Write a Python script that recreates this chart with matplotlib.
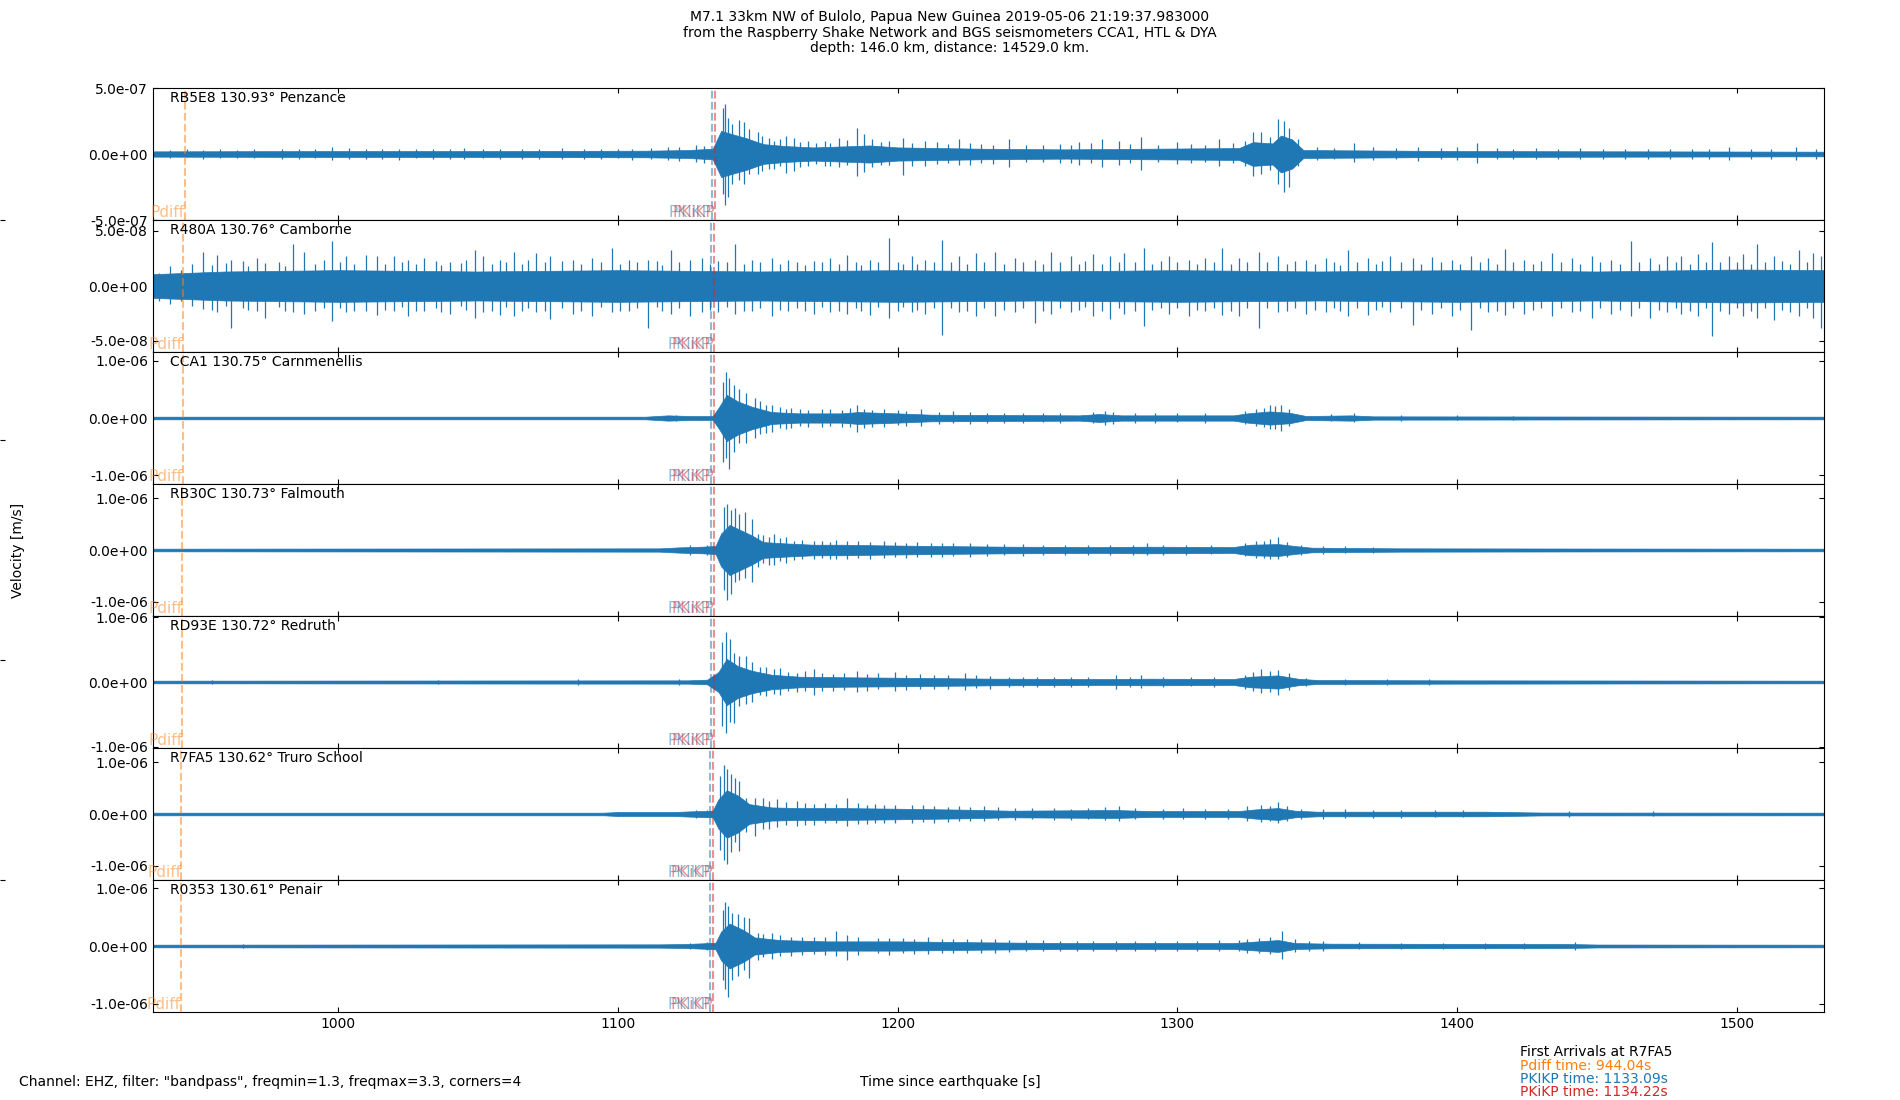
import numpy as np
import matplotlib
matplotlib.use("Agg")
import matplotlib.pyplot as plt
from matplotlib.ticker import FormatStrFormatter, MultipleLocator

# stations, top to bottom
stations = ["RB5E8", "R480A", "CCA1", "RB30C", "RD93E", "R7FA5", "R0353"]
distances = [130.93, 130.76, 130.75, 130.73, 130.72, 130.62, 130.61]
places = ["Penzance", "Camborne", "Carnmenellis", "Falmouth", "Redruth", "Truro School", "Penair"]
y_half = [5.0e-7, 6.0e-8, 1.15e-6, 1.28e-6, 1.02e-6, 1.28e-6, 1.14e-6]   # axis half range [m/s]
y_tick = [5.0e-7, 5.0e-8, 1.0e-6, 1.0e-6, 1.0e-6, 1.0e-6, 1.0e-6]

# predicted arrivals per station [s]
pdiff_t = [945.40, 944.66, 944.61, 944.52, 944.48, 944.04, 944.00]
pkikp_t = [1133.68, 1133.36, 1133.34, 1133.30, 1133.28, 1133.09, 1133.07]
pkikp2_t = [1134.81, 1134.49, 1134.47, 1134.43, 1134.41, 1134.22, 1134.20]

# dense part of each waveform: (time s, amplitude % of axis half range)
rb5e8_core = [(934, 4), (1000, 4.5), (1060, 4.5), (1110, 5), (1125, 6), (1134, 8), (1137, 35), (1141, 30),
              (1146, 24), (1152, 15), (1160, 12), (1170, 10), (1184, 12), (1190, 13), (1200, 10), (1230, 8),
              (1260, 7), (1290, 8), (1322, 9), (1327, 18), (1334, 16), (1337, 28), (1341, 22), (1345, 6),
              (1400, 4.5), (1531, 3.5)]
r480a_core = [(934, 18), (960, 22), (1000, 24), (1050, 22), (1100, 24), (1150, 22), (1200, 24), (1250, 22),
              (1300, 24), (1350, 22), (1400, 24), (1450, 22), (1500, 25), (1531, 24)]
cca1_core = [(934, 2), (1110, 2), (1118, 4), (1126, 3), (1134, 3), (1136, 15), (1139, 35), (1143, 25),
             (1148, 17), (1155, 9), (1165, 7), (1180, 7), (1186, 9), (1200, 7), (1212, 5), (1240, 4.5),
             (1265, 4), (1272, 6), (1280, 4), (1320, 4), (1325, 7), (1333, 10), (1340, 8), (1346, 3),
             (1362, 4), (1370, 2.5), (1450, 2.2), (1531, 2)]
rb30c_core = [(934, 2), (1115, 2.5), (1122, 4), (1130, 5), (1135, 6), (1137, 25), (1140, 38), (1144, 30),
              (1148, 22), (1152, 12), (1160, 10), (1170, 8), (1180, 8), (1195, 7), (1215, 6), (1240, 5),
              (1270, 4.5), (1289, 5), (1320, 4.5), (1326, 8), (1336, 9), (1342, 6), (1348, 3.5), (1380, 2.5),
              (1450, 2.2), (1531, 2)]
rd93e_core = [(934, 2), (1125, 2.5), (1132, 3.5), (1136, 15), (1139, 35), (1143, 24), (1148, 17), (1155, 11),
              (1165, 8), (1185, 7), (1200, 6.5), (1235, 5), (1275, 4.5), (1290, 5), (1320, 4.5), (1326, 8),
              (1336, 10), (1343, 5), (1350, 3), (1400, 2.5), (1531, 2)]
r7fa5_core = [(934, 2), (1095, 2), (1100, 3), (1120, 3), (1126, 4), (1134, 5), (1136, 22), (1139, 36),
              (1143, 28), (1147, 15), (1155, 10), (1164, 9), (1180, 9), (1200, 8), (1225, 6.5), (1240, 5),
              (1278, 6), (1290, 4.5), (1322, 4.5), (1328, 7), (1336, 9), (1342, 5), (1350, 3.5), (1410, 3.5),
              (1430, 2.2), (1531, 2)]
r0353_core = [(934, 2), (1115, 2.5), (1124, 3), (1130, 4), (1135, 5), (1137, 22), (1140, 34), (1145, 24),
              (1149, 13), (1158, 9), (1175, 7), (1200, 7), (1232, 5.5), (1260, 4.5), (1320, 4.5), (1327, 6.5),
              (1336, 9), (1342, 4.5), (1355, 3.5), (1440, 3), (1450, 2.2), (1531, 2)]

# single swings standing out of the dense part: (time s, up %, down %)
rb5e8_spikes = [(940, 6, 6), (946, 7, 5), (952, 6, 7), (958, 7, 6), (964, 6, 6), (970, 7, 6), (980, 8, 7),
                (986, 7, 7), (992, 8, 6), (998, 10, 9), (1004, 9, 8), (1010, 7, 8), (1016, 8, 7), (1022, 8, 9),
                (1028, 7, 6), (1034, 8, 8), (1040, 7, 7), (1045, 9, 7), (1052, 8, 6), (1058, 7, 8), (1066, 8, 7),
                (1072, 7, 7), (1080, 9, 8), (1088, 8, 7), (1094, 7, 8), (1100, 8, 6), (1105, 8, 9), (1112, 9, 8),
                (1118, 10, 9), (1122, 11, 10), (1128, 14, 12), (1131, 12, 13),
                (1137.5, 70, 60), (1138.5, 76, 77), (1139.5, 55, 65), (1141, 45, 46), (1143.5, 52, 40),
                (1145, 48, 46), (1147, 38, 30), (1150, 34, 31), (1151.5, 28, 25), (1154, 24, 22), (1156, 20, 22),
                (1158, 22, 18), (1160, 27, 29), (1163, 25, 26), (1165, 18, 20), (1168, 20, 18), (1171, 17, 15),
                (1174, 19, 18), (1176, 16, 18), (1179, 24, 20), (1182, 21, 17), (1185.5, 39, 34), (1188, 30, 28),
                (1191, 22, 20), (1194, 18, 17), (1197, 20, 16), (1202, 24, 32), (1205, 16, 18), (1210, 20, 18),
                (1214, 18, 15), (1218, 15, 14), (1222, 22, 16), (1226, 16, 17), (1230, 15, 13), (1234, 14, 15),
                (1240, 22, 19), (1246, 14, 12), (1252, 13, 12), (1258, 15, 14), (1262, 14, 13), (1265, 18, 16),
                (1269, 16, 14), (1273, 22, 20), (1279, 20, 17), (1283, 15, 13), (1287, 26, 24), (1293, 14, 12),
                (1300, 18, 15), (1305, 15, 13), (1310, 13, 12), (1315, 22, 18), (1320, 16, 14), (1324, 20, 18),
                (1327, 33, 33), (1330, 34, 30), (1333, 26, 24), (1336, 53, 45), (1338, 50, 57), (1340, 40, 50),
                (1343, 22, 18), (1350, 10, 9), (1356, 9, 8), (1363, 17, 12), (1370, 10, 9), (1378, 9, 8),
                (1386, 10, 10), (1394, 9, 8), (1400, 10, 9), (1407, 17, 14), (1414, 9, 8), (1420, 8, 8),
                (1428, 9, 8), (1436, 8, 7), (1444, 9, 8), (1452, 8, 7), (1460, 8, 8), (1468, 7, 7), (1476, 8, 7),
                (1484, 7, 8), (1490, 8, 7), (1497, 10, 9), (1505, 8, 7), (1512, 7, 7), (1521, 10, 9),
                (1528, 8, 7)]
r480a_spikes = [(936, 20, 23), (940, 30, 28), (944, 25, 22), (948, 34, 30), (952, 52, 35), (955, 32, 36),
                (957, 47, 40), (960, 35, 30), (962, 40, 64), (966, 38, 34), (968, 30, 36), (971, 42, 38),
                (974, 35, 48), (979, 36, 32), (981, 30, 38), (984, 63, 40), (988, 52, 43), (992, 34, 38),
                (995, 40, 33), (998, 68, 53), (1001, 36, 34), (1003, 45, 40), (1006, 33, 38), (1010, 47, 38),
                (1014, 45, 44), (1017, 34, 36), (1020, 45, 38), (1023, 36, 32), (1025, 40, 45), (1028, 33, 38),
                (1031, 42, 38), (1035, 38, 34), (1037, 32, 40), (1040, 37, 42), (1044, 35, 30), (1046, 40, 36),
                (1049, 55, 48), (1052, 45, 40), (1055, 34, 38), (1058, 40, 44), (1060, 36, 32), (1063, 52, 45),
                (1066, 34, 38), (1068, 40, 34), (1071, 50, 40), (1074, 36, 38), (1076, 45, 50), (1080, 38, 34),
                (1084, 40, 42), (1087, 34, 38), (1091, 42, 45), (1094, 36, 32), (1098, 58, 40), (1101, 34, 38),
                (1104, 40, 38), (1107, 36, 34), (1111, 40, 64), (1114, 38, 32), (1116, 32, 38), (1119, 55, 42),
                (1122, 36, 34), (1126, 40, 45), (1130, 42, 40), (1133, 34, 36), (1136, 38, 40), (1139, 36, 32),
                (1142, 63, 42), (1145, 34, 38), (1148, 40, 38), (1151, 36, 34), (1155, 42, 45), (1158, 34, 36),
                (1161, 40, 38), (1164, 36, 34), (1167, 32, 38), (1170, 38, 42), (1173, 36, 32), (1176, 42, 40),
                (1179, 34, 38), (1182, 47, 42), (1185, 36, 34), (1187, 32, 38), (1190, 40, 44), (1193, 36, 32),
                (1197, 73, 48), (1200, 36, 38), (1202, 34, 32), (1205, 45, 40), (1207, 34, 36), (1210, 40, 42),
                (1213, 36, 34), (1216, 70, 74), (1219, 36, 34), (1222, 45, 40), (1225, 34, 38), (1228, 50, 45),
                (1231, 36, 34), (1235, 52, 46), (1238, 34, 36), (1242, 42, 40), (1245, 36, 34), (1249, 40, 56),
                (1252, 34, 38), (1255, 52, 42), (1258, 36, 34), (1262, 45, 40), (1265, 34, 36), (1267, 38, 32),
                (1270, 48, 45), (1273, 34, 38), (1276, 45, 50), (1279, 36, 34), (1281, 50, 42), (1285, 36, 38),
                (1288, 58, 61), (1291, 34, 36), (1294, 38, 34), (1297, 45, 42), (1300, 36, 34), (1304, 40, 45),
                (1307, 34, 36), (1310, 42, 38), (1313, 36, 34), (1316, 58, 44), (1319, 34, 38), (1322, 42, 45),
                (1325, 36, 34), (1329, 52, 64), (1332, 36, 34), (1336, 45, 40), (1339, 34, 38), (1342, 38, 34),
                (1346, 40, 42), (1349, 34, 36), (1353, 42, 40), (1356, 36, 34), (1358, 32, 38), (1361, 55, 45),
                (1364, 36, 34), (1368, 42, 44), (1371, 34, 36), (1373, 38, 32), (1376, 45, 40), (1380, 36, 34),
                (1384, 42, 59), (1387, 34, 36), (1391, 44, 42), (1394, 36, 34), (1398, 40, 45), (1401, 34, 36),
                (1405, 45, 66), (1408, 36, 34), (1411, 42, 40), (1414, 34, 38), (1417, 56, 44), (1420, 36, 34),
                (1424, 40, 42), (1427, 34, 36), (1430, 38, 34), (1434, 50, 45), (1437, 36, 34), (1441, 42, 40),
                (1444, 34, 38), (1448, 45, 48), (1451, 36, 34), (1455, 40, 42), (1458, 34, 36), (1462, 68, 45),
                (1465, 36, 34), (1469, 42, 48), (1472, 34, 36), (1475, 45, 40), (1478, 36, 34), (1480, 45, 42),
                (1483, 34, 38), (1486, 48, 45), (1489, 36, 34), (1491, 67, 76), (1494, 36, 38), (1497, 45, 42),
                (1500, 36, 34), (1502, 48, 45), (1505, 34, 38), (1507, 63, 48), (1510, 36, 34), (1513, 45, 52),
                (1516, 38, 36), (1519, 34, 40), (1522, 55, 45), (1525, 36, 34), (1527, 50, 48), (1530, 45, 64)]
cca1_spikes = [(1121, 5, 5), (1137.7, 55, 67), (1138.8, 69, 60), (1139.8, 60, 77), (1141.5, 50, 52),
               (1143.5, 44, 38), (1146, 38, 38), (1149, 30, 30), (1151, 26, 24), (1153, 20, 22), (1155, 19, 21),
               (1158, 16, 15), (1160, 14, 16), (1162, 15, 15), (1165, 13, 12), (1168, 12, 13), (1173, 14, 14),
               (1176, 13, 12), (1180, 12, 13), (1183, 15, 13), (1185.5, 19, 21), (1188, 14, 15), (1191, 12, 13),
               (1195, 14, 13), (1200, 12, 11), (1203, 11, 12), (1208.5, 14, 12), (1215, 9, 9), (1220, 10, 8),
               (1226, 9, 9), (1232, 8, 8), (1238, 8, 7), (1245, 7, 8), (1252, 7, 6), (1258, 7, 7), (1270, 9, 8),
               (1274, 10, 10), (1277, 9, 9), (1285, 7, 7), (1292, 8, 7), (1300, 7, 6), (1310, 7, 7),
               (1324, 10, 9), (1328, 14, 12), (1331, 15, 14), (1333, 19, 17), (1335, 18, 16), (1337, 20, 19),
               (1340, 13, 12), (1355, 6, 5), (1363, 8, 6), (1380, 4, 4), (1400, 4, 3), (1420, 3, 3)]
rb30c_spikes = [(1126, 7, 7), (1132, 8, 8), (1138, 65, 60), (1139, 70, 76), (1140.5, 60, 66), (1142, 63, 48),
                (1143.5, 55, 45), (1145.5, 58, 43), (1148, 47, 48), (1150, 25, 26), (1152, 22, 20),
                (1154, 20, 22), (1156, 25, 23), (1158, 18, 17), (1160, 20, 20), (1163, 14, 15), (1166, 15, 13),
                (1170, 13, 14), (1173, 14, 12), (1176, 12, 13), (1178, 15, 13), (1182, 14, 13), (1186, 13, 12),
                (1190, 12, 13), (1195, 13, 12), (1199, 12, 11), (1203, 11, 12), (1207, 12, 10), (1212, 11, 10),
                (1216, 10, 10), (1220, 11, 9), (1226, 10, 10), (1232, 9, 9), (1238, 9, 8), (1245, 9, 9),
                (1252, 8, 8), (1260, 8, 7), (1268, 8, 8), (1276, 7, 8), (1284, 8, 7), (1289, 10, 8),
                (1295, 8, 7), (1303, 7, 7), (1312, 7, 6), (1324, 10, 9), (1328, 14, 12), (1331, 13, 12),
                (1333, 16, 13), (1336, 19, 13), (1339, 12, 10), (1344, 8, 7), (1352, 6, 6), (1360, 6, 5),
                (1370, 5, 5)]
rd93e_spikes = [(955, 3, 3), (1036, 3, 3), (1086, 4, 4), (1122, 4, 4), (1137.4, 60, 67), (1138.7, 76, 77),
                (1140, 65, 60), (1141.5, 44, 62), (1143.5, 39, 36), (1146, 39, 34), (1148, 30, 30),
                (1151, 22, 20), (1153, 22, 21), (1156, 19, 18), (1158, 21, 20), (1161, 15, 14), (1164, 14, 15),
                (1167, 16, 14), (1170, 19, 19), (1173, 14, 13), (1177, 12, 13), (1181, 13, 12), (1185.5, 16, 15),
                (1189, 12, 13), (1193, 13, 11), (1199, 15, 14), (1203, 11, 12), (1208, 12, 10), (1213, 11, 10),
                (1218, 10, 11), (1224, 14, 12), (1228, 10, 9), (1233, 9, 10), (1240, 8, 8), (1245, 8, 7),
                (1250, 8, 8), (1256, 8, 7), (1262, 7, 7), (1268, 7, 8), (1278, 10, 10), (1283, 8, 8),
                (1287, 10, 9), (1295, 7, 7), (1305, 7, 6), (1313, 7, 7), (1324, 11, 10), (1327, 15, 14),
                (1330, 20, 16), (1333, 17, 15), (1336, 18, 20), (1340, 14, 12), (1346, 6, 6), (1360, 5, 5),
                (1375, 5, 4), (1390, 4, 4)]
r7fa5_spikes = [(1100, 3, 3), (1128, 6, 6), (1132, 6, 5), (1136.5, 58, 54), (1138, 74, 70), (1139, 68, 76),
                (1140.5, 60, 58), (1142, 55, 43), (1143.5, 50, 56), (1146, 25, 28), (1149, 25, 33),
                (1152, 24, 22), (1154, 20, 22), (1157, 22, 20), (1160, 18, 17), (1164, 20, 18), (1167, 17, 16),
                (1170, 15, 16), (1174, 16, 14), (1178, 15, 14), (1182, 25, 18), (1186, 16, 15), (1189, 14, 15),
                (1192, 15, 13), (1195, 14, 13), (1199, 13, 14), (1205, 13, 13), (1209, 13, 12), (1213, 12, 13),
                (1218, 11, 12), (1222, 12, 10), (1226, 11, 10), (1231, 12, 10), (1236, 10, 9), (1242, 9, 9),
                (1248, 9, 8), (1256, 9, 9), (1262, 8, 9), (1268, 9, 8), (1274, 10, 9), (1279, 12, 11),
                (1285, 9, 8), (1295, 8, 8), (1302, 9, 8), (1310, 8, 7), (1318, 8, 8), (1325, 12, 10),
                (1330, 14, 12), (1333, 12, 11), (1336, 18, 14), (1339, 12, 10), (1344, 8, 7), (1352, 7, 7),
                (1360, 7, 6), (1370, 6, 6), (1380, 6, 6), (1392, 6, 5), (1402, 6, 5), (1440, 4, 4), (1470, 4, 3)]
r0353_spikes = [(966, 3, 3), (1126, 4, 4), (1132, 6, 6), (1137.5, 55, 52), (1138.5, 67, 65), (1139.3, 60, 77),
                (1141, 50, 52), (1143, 48, 45), (1145, 44, 36), (1147, 42, 49), (1150, 19, 21), (1152, 18, 17),
                (1155, 19, 20), (1158, 16, 15), (1162, 14, 15), (1166, 13, 14), (1170, 14, 12), (1174, 13, 13),
                (1178, 22, 15), (1182, 17, 21), (1186, 14, 13), (1193, 12, 11), (1197, 12, 13), (1202, 12, 11),
                (1206, 11, 12), (1211, 14, 12), (1216, 11, 10), (1220, 10, 11), (1225, 11, 10), (1230, 10, 10),
                (1235, 10, 10), (1240, 9, 9), (1246, 9, 8), (1252, 9, 8), (1258, 8, 7), (1264, 8, 8),
                (1270, 8, 7), (1278, 8, 8), (1285, 8, 7), (1292, 8, 8), (1300, 8, 7), (1307, 7, 7),
                (1315, 9, 8), (1322, 9, 8), (1325, 11, 10), (1329, 12, 11), (1333, 14, 12), (1337.5, 23, 19),
                (1342, 10, 9), (1347, 8, 7), (1352, 8, 7), (1365, 6, 5), (1380, 5, 5), (1395, 5, 4),
                (1410, 5, 4), (1424, 5, 5), (1442, 6, 6)]

cores = [rb5e8_core, r480a_core, cca1_core, rb30c_core, rd93e_core, r7fa5_core, r0353_core]
spikes = [rb5e8_spikes, r480a_spikes, cca1_spikes, rb30c_spikes, rd93e_spikes, r7fa5_spikes, r0353_spikes]

x_range = (934, 1531)
ref_station = "R7FA5"
ref_times = {"Pdiff": 944.04, "PKIKP": 1133.09, "PKiKP": 1134.22}

title = ("M7.1 33km NW of Bulolo, Papua New Guinea 2019-05-06 21:19:37.983000\n"
         "from the Raspberry Shake Network and BGS seismometers CCA1, HTL & DYA\n"
         "depth: 146.0 km, distance: 14529.0 km.")
filt_note = 'Channel: EHZ, filter: "bandpass", freqmin=1.3, freqmax=3.3, corners=4'

plt.rcParams["font.size"] = 10
fig, axs = plt.subplots(7, 1, sharex=True, figsize=(19, 11), dpi=100)
plt.subplots_adjust(left=0.0805, right=0.96, top=0.92, bottom=0.08, hspace=0)

# figure-wide helper axes (only its inward ticks show at the left edge)
bg = fig.add_axes([0, 0, 1, 1], frameon=False, zorder=-5)
bg.set_xticks([])
bg.set_yticks([0.2, 0.4, 0.6, 0.8])
bg.set_ylim(0, 1)
bg.tick_params(axis="y", direction="in", labelleft=False)

for i, ax in enumerate(axs):
    H = y_half[i]
    ct, ca = np.array(cores[i], dtype=float).T
    ax.fill_between(ct, -ca / 100 * H, ca / 100 * H, color="C0", lw=0.5, zorder=2)
    st, su, sd = np.array(spikes[i], dtype=float).T
    ax.vlines(st, -sd / 100 * H, su / 100 * H, color="C0", lw=0.9, zorder=2)

    ax.axvline(pdiff_t[i], color="C1", ls="--", lw=1.5, alpha=0.5, zorder=3)
    ax.axvline(pkikp_t[i], color="C0", ls="--", lw=1.5, alpha=0.5, zorder=3)
    ax.axvline(pkikp2_t[i], color="C3", ls="--", lw=1.5, alpha=0.5, zorder=3)
    ax.text(pdiff_t[i], -H, "Pdiff", color="C1", alpha=0.5, ha="right", va="bottom", fontsize=11)
    ax.text(pkikp_t[i], -H, "PKIKP", color="C0", alpha=0.5, ha="right", va="bottom", fontsize=11)
    ax.text(pkikp2_t[i], -H, "PKiKP", color="C3", alpha=0.5, ha="right", va="bottom", fontsize=11)

    ax.text(0.01, 0.975, "{} {:.2f}° {}".format(stations[i], distances[i], places[i]),
            transform=ax.transAxes, va="top", ha="left")

    ax.set_ylim(-H, H)
    ax.set_yticks([-y_tick[i], 0, y_tick[i]])
    ax.yaxis.set_major_formatter(FormatStrFormatter("%.1e"))
    ax.set_xlim(*x_range)
    ax.xaxis.set_major_locator(MultipleLocator(100))
    ax.tick_params(direction="in", top=True, right=True)

fig.text(0.5, 0.991, title, ha="center", va="top", linespacing=1.15)
fig.text(0.0095, 0.5, "Velocity [m/s]", rotation=90, ha="center", va="center")
fig.text(0.5, 0.0164, "Time since earthquake [s]", ha="center", va="center")
fig.text(0.01, 0.0164, filt_note, ha="left", va="center")

fig.text(0.8, 0.0436, "First Arrivals at " + ref_station, va="center", color="black")
fig.text(0.8, 0.0312, "Pdiff time: {:.2f}s".format(ref_times["Pdiff"]), va="center", color="C1")
fig.text(0.8, 0.0191, "PKIKP time: {:.2f}s".format(ref_times["PKIKP"]), va="center", color="C0")
fig.text(0.8, 0.0073, "PKiKP time: {:.2f}s".format(ref_times["PKiKP"]), va="center", color="C3")

fig.savefig("out.png")
